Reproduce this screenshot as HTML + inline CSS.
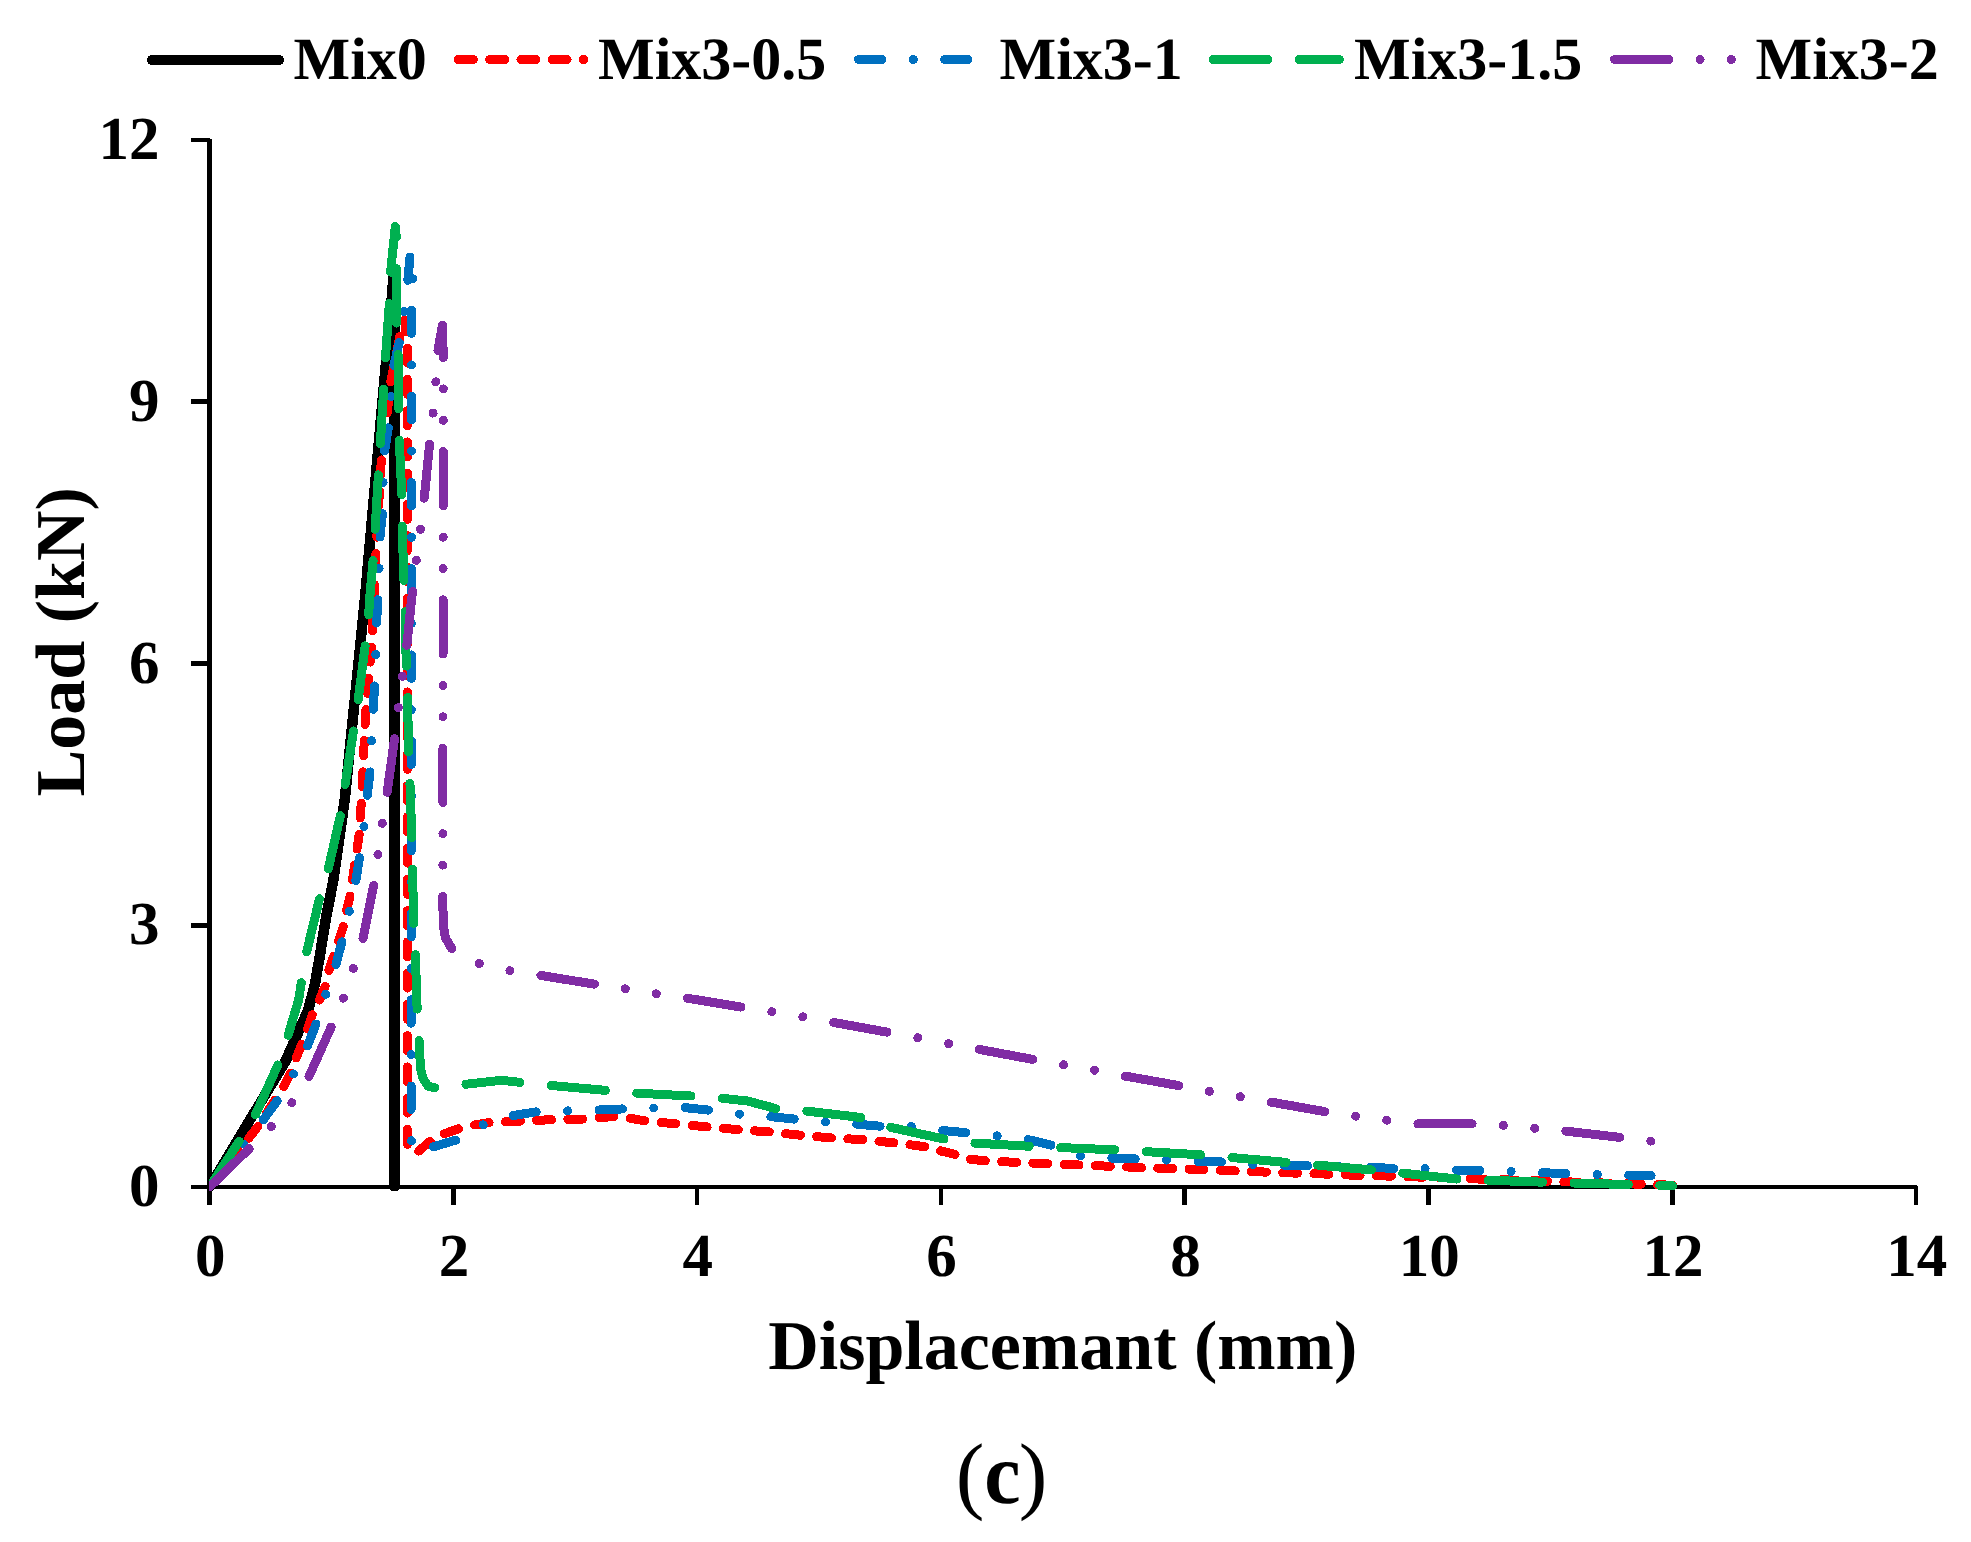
<!DOCTYPE html>
<html lang="en">
<head>
<meta charset="utf-8">
<title>Load-displacement curves (c)</title>
<style>
html,body{margin:0;padding:0;background:#ffffff;}
body{width:1971px;height:1542px;overflow:hidden;}
svg{display:block;}
text{text-rendering:geometricPrecision;}
</style>
</head>
<body>
<svg width="1971" height="1542" viewBox="0 0 1971 1542" shape-rendering="crispEdges">
<g fill="#000">
<rect x="207" y="139" width="5" height="1066"/>
<rect x="191" y="1185" width="1726" height="4"/>
<rect x="191" y="923" width="19" height="5"/>
<rect x="191" y="661" width="19" height="5"/>
<rect x="191" y="399" width="19" height="5"/>
<rect x="191" y="138" width="19" height="4"/>
<rect x="451" y="1186" width="5" height="19"/>
<rect x="695" y="1186" width="4" height="19"/>
<rect x="939" y="1186" width="4" height="19"/>
<rect x="1182" y="1186" width="5" height="19"/>
<rect x="1426" y="1186" width="5" height="19"/>
<rect x="1670" y="1186" width="5" height="19"/>
<rect x="1914" y="1186" width="4" height="19"/>
</g>
<defs><clipPath id="plotclip"><rect x="209" y="0" width="1762" height="1191"/></clipPath></defs>
<g clip-path="url(#plotclip)">
<polyline points="209.5,1187.0 244.0,1129.7 285.3,1061.6 296.8,1035.6 308.3,1009.7 315.0,983.8 319.5,957.8 325.8,918.9 333.4,880.0 344.7,800.0 364.8,600.0 382.6,400.0 392.5,290.0 393.6,270.0 394.4,290.0 394.4,1187.0" fill="none" stroke="#000000" stroke-width="10.5" stroke-linecap="round" stroke-linejoin="round"/>
<polyline points="209.5,1187.0 249.3,1137.5 258.4,1125.8 284.3,1085.6 290.8,1072.6 296.6,1057.0 302.5,1042.8 307.7,1028.5 312.8,1013.0 319.5,1000.0 325.9,984.2 329.0,970.0 334.3,954.3 338.8,940.0 344.0,924.5 346.6,910.2 350.5,894.0 352.5,880.4 355.0,862.3 357.0,849.3 359.6,831.8 360.2,817.5 361.5,800.0 365.5,715.0 372.0,640.0 375.9,553.0 381.0,464.9 390.8,381.6 399.9,336.2 404.4,320.0" fill="none" stroke="#ff0000" stroke-width="9" stroke-linecap="round" stroke-linejoin="round" stroke-dasharray="15 16.25" stroke-dashoffset="0.00"/>
<polyline points="404.4,320.0 407.4,342.0 407.4,1144.0 410.0,1150.0 416.5,1153.0" fill="none" stroke="#ff0000" stroke-width="9" stroke-linecap="round" stroke-linejoin="round" stroke-dasharray="15 16.25" stroke-dashoffset="909.19"/>
<polyline points="416.5,1153.0 429.0,1142.2 440.6,1135.0 458.0,1129.0 471.0,1125.5 488.8,1122.7 501.5,1122.0 520.5,1121.0 552.0,1119.7 584.0,1119.0 615.6,1116.4 625.8,1117.6 646.0,1121.0 677.8,1124.0 708.0,1127.0 740.0,1129.8 770.4,1132.0 802.0,1135.4 832.5,1138.0 864.0,1139.7 894.7,1143.0 906.6,1144.3 925.7,1146.8 937.0,1150.0 954.8,1154.4 966.3,1159.0 986.5,1160.8 1018.3,1162.5 1048.7,1163.8 1080.4,1165.0 1110.9,1166.3 1142.6,1167.6 1205.2,1169.6 1268.0,1172.2 1330.3,1174.2 1360.7,1175.5 1390.3,1176.1 1483.7,1179.2 1640.0,1184.2 1672.4,1185.2" fill="none" stroke="#ff0000" stroke-width="9" stroke-linecap="round" stroke-linejoin="round" stroke-dasharray="15 16.25" stroke-dashoffset="1747.09"/>
<polyline points="209.5,1187.0 263.6,1119.3 277.8,1099.9 293.6,1073.7 307.7,1045.4 316.0,1024.0 325.9,993.9 335.6,966.0 342.0,941.4 349.2,911.5 355.7,881.7 359.6,857.0 363.9,826.8 367.4,794.6 370.0,771.9 371.5,741.4 373.2,710.9 374.5,686.3 375.6,655.5 376.5,624.6 377.8,600.0 379.1,569.3 379.8,538.8 382.4,514.1 383.0,483.0 384.3,453.2 388.2,428.5 390.4,400.0 393.4,367.3 399.2,342.7 403.8,312.8 407.7,281.7 410.2,255.0" fill="none" stroke="#0070c0" stroke-width="9" stroke-linecap="round" stroke-linejoin="round" stroke-dasharray="23.4 31.4 0.01 31.4" stroke-dashoffset="0.00"/>
<polyline points="410.2,255.0 413.0,278.0 411.5,308.0 411.2,1138.0 412.0,1147.0 416.0,1149.5" fill="none" stroke="#0070c0" stroke-width="9" stroke-linecap="round" stroke-linejoin="round" stroke-dasharray="23.4 31.4 0.01 31.4" stroke-dashoffset="979.22"/>
<polyline points="416.0,1149.5 431.0,1147.5 458.9,1139.2 484.5,1124.0 512.9,1115.6 539.5,1111.3 569.2,1110.8 599.0,1110.0 625.8,1108.8 655.0,1108.0 684.0,1107.5 712.0,1110.5 740.4,1114.3 769.0,1116.4 797.0,1119.4 825.7,1122.0 855.4,1124.0 883.3,1126.5 911.7,1126.5 940.9,1130.3 967.5,1132.9 997.2,1135.9 1026.6,1139.2 1052.5,1145.5 1080.4,1155.7 1109.6,1158.2 1137.5,1159.0 1166.1,1160.0 1195.8,1161.5 1222.5,1162.0 1251.6,1164.6 1283.4,1165.3 1308.7,1165.8 1370.0,1167.0 1393.4,1168.6 1424.2,1168.6 1455.3,1170.0 1479.6,1170.6 1510.0,1171.5 1541.5,1172.7 1564.8,1173.5 1595.9,1174.5 1626.7,1175.1 1651.1,1175.7" fill="none" stroke="#0070c0" stroke-width="9" stroke-linecap="round" stroke-linejoin="round" stroke-dasharray="23.4 31.4 0.01 31.4" stroke-dashoffset="1878.98"/>
<polyline points="209.5,1187.0 240.0,1140.0 255.8,1114.0 278.5,1063.5 288.2,1035.0 298.6,1000.0 301.9,979.0 307.0,950.5 320.0,896.6 328.5,868.0 340.8,813.6 345.3,783.5 353.8,729.0 358.3,698.6 365.4,644.1 368.7,613.6 370.0,594.6 373.3,558.2 375.2,527.8 378.5,472.6 380.4,442.2 383.0,400.0 385.6,355.6 389.5,301.2 390.8,270.0 395.3,226.6" fill="none" stroke="#00b050" stroke-width="9" stroke-linecap="round" stroke-linejoin="round" stroke-dasharray="54.4 31.4" stroke-dashoffset="0.00"/>
<polyline points="395.3,226.6 396.6,240.0 396.5,323.0 398.0,353.0 398.6,400.0 399.2,438.9 401.8,494.7 402.2,525.2 403.8,580.3 405.0,608.0 406.3,667.0 407.6,693.0 408.5,756.0 409.8,780.0 410.6,800.0 412.5,865.0 413.7,928.0 415.4,952.0 416.7,1000.0 419.0,1040.0 420.5,1068.0 422.8,1078.0 428.0,1086.0 435.5,1088.0" fill="none" stroke="#00b050" stroke-width="9" stroke-linecap="round" stroke-linejoin="round" stroke-dasharray="54.4 31.4" stroke-dashoffset="987.43"/>
<polyline points="435.5,1088.0 462.0,1084.7 501.5,1080.3 520.5,1082.4 548.4,1085.2 606.7,1090.5 633.4,1093.0 691.7,1096.0 719.6,1098.0 747.5,1101.0 776.7,1108.8 804.6,1110.8 861.7,1117.6 888.9,1127.0 944.7,1139.2 973.4,1143.0 1029.7,1146.3 1116.0,1149.9 1202.2,1154.9 1287.2,1162.5 1373.0,1170.0 1402.5,1173.1 1458.3,1179.2 1487.7,1180.2 1543.5,1182.2 1629.8,1184.6 1672.4,1185.7" fill="none" stroke="#00b050" stroke-width="9" stroke-linecap="round" stroke-linejoin="round" stroke-dasharray="54.4 31.4" stroke-dashoffset="1856.95"/>
<polyline points="209.5,1187.0 250.0,1147.9 271.3,1126.5 292.0,1102.5 309.0,1076.5 331.6,1026.0 342.7,1000.0 353.4,968.2 362.8,939.4 373.9,884.3 378.0,853.8 382.3,823.0 387.2,792.0 394.6,738.1 398.5,707.0 402.4,675.9 406.9,644.7 411.5,600.0 416.5,559.3 420.6,528.4 424.3,497.9 429.7,442.8 433.2,411.9 435.9,380.9 437.5,353.0 442.4,325.2" fill="none" stroke="#802ca4" stroke-width="9" stroke-linecap="round" stroke-linejoin="round" stroke-dasharray="54.2 31.35 0.01 31.35 0.01 31.35" stroke-dashoffset="-1.00"/>
<polyline points="442.4,325.2 443.3,357.0 443.3,388.0 442.8,895.0 443.2,925.0 445.5,938.0 452.0,949.0" fill="none" stroke="#802ca4" stroke-width="9" stroke-linecap="round" stroke-linejoin="round" stroke-dasharray="54.2 31.35 0.01 31.35 0.01 31.35" stroke-dashoffset="911.46"/>
<polyline points="452.0,949.0 478.6,963.4 509.0,970.5 538.3,975.0 595.8,984.4 625.3,988.8 656.2,993.8 685.4,997.9 742.5,1007.3 771.6,1011.6 802.8,1016.9 831.3,1022.0 889.6,1032.6 918.0,1037.7 948.5,1043.6 977.7,1049.1 1034.7,1059.8 1064.0,1064.9 1094.4,1070.2 1123.5,1075.8 1180.6,1085.9 1209.8,1091.5 1240.7,1096.8 1270.0,1101.9 1327.0,1112.0 1356.4,1116.3 1387.3,1120.3 1417.7,1123.8 1473.5,1123.8 1504.0,1125.4 1535.4,1128.4 1565.9,1131.1 1621.7,1137.6 1651.7,1141.2" fill="none" stroke="#802ca4" stroke-width="9" stroke-linecap="round" stroke-linejoin="round" stroke-dasharray="54.2 31.35 0.01 31.35 0.01 31.35" stroke-dashoffset="1537.25"/>
</g>
<g fill="none" stroke-linecap="round">
<line x1="151.9" y1="60" x2="279" y2="60" stroke="#000" stroke-width="10"/>
<line x1="458.4" y1="59.5" x2="584" y2="59.5" stroke="#ff0000" stroke-width="9" stroke-dasharray="15 16.25"/>
<line x1="858.5" y1="59.5" x2="967.9" y2="59.5" stroke="#0070c0" stroke-width="9" stroke-dasharray="23.4 31.4 0.01 31.4"/>
<line x1="1213.3" y1="59.5" x2="1339.5" y2="59.5" stroke="#00b050" stroke-width="9" stroke-dasharray="54.4 31.4"/>
<line x1="1614.5" y1="59.5" x2="1731.6" y2="59.5" stroke="#802ca4" stroke-width="9" stroke-dasharray="54.2 31.35 0.01 31.35 0.01 31.35"/>
</g>
<g font-family="'Liberation Serif', 'Times New Roman', serif" font-weight="bold" fill="#000">
<g font-size="60">
<text x="293.5" y="79">Mix0</text>
<text x="598" y="79">Mix3-0.5</text>
<text x="999.5" y="79">Mix3-1</text>
<text x="1354" y="79">Mix3-1.5</text>
<text x="1755.5" y="79">Mix3-2</text>
</g>
<g font-size="61">
<text x="159.6" y="1206.0" text-anchor="end">0</text>
<text x="159.6" y="944.2" text-anchor="end">3</text>
<text x="159.6" y="682.5" text-anchor="end">6</text>
<text x="159.6" y="420.8" text-anchor="end">9</text>
<text x="159.6" y="159.0" text-anchor="end">12</text>
<text x="210.2" y="1276" text-anchor="middle">0</text>
<text x="454.0" y="1276" text-anchor="middle">2</text>
<text x="697.8" y="1276" text-anchor="middle">4</text>
<text x="941.6" y="1276" text-anchor="middle">6</text>
<text x="1185.4" y="1276" text-anchor="middle">8</text>
<text x="1429.2" y="1276" text-anchor="middle">10</text>
<text x="1673.0" y="1276" text-anchor="middle">12</text>
<text x="1916.8" y="1276" text-anchor="middle">14</text>
</g>
<text x="1062.7" y="1369" font-size="70" text-anchor="middle">Displacemant (mm)</text>
<text transform="translate(83.5,641.8) rotate(-90)" font-size="70" text-anchor="middle">Load (kN)</text>
<text x="970" y="1503" font-size="86" font-weight="normal" text-anchor="middle">(</text>
<text transform="translate(1002.5,1502.5) scale(0.93,0.99)" font-size="88" text-anchor="middle">c</text>
<text x="1033" y="1503" font-size="86" font-weight="normal" text-anchor="middle">)</text>
</g>
</svg>
</body>
</html>
